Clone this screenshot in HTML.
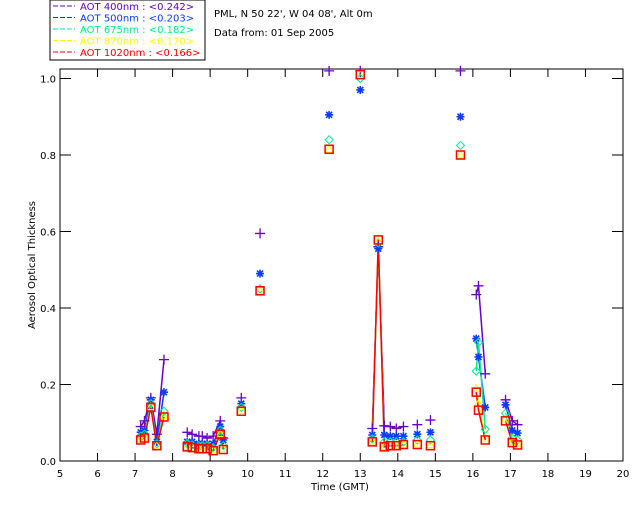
<!DOCTYPE html>
<html><head><meta charset="utf-8"><style>
body{margin:0;background:#fff;width:640px;height:512px;overflow:hidden}
svg text{font-family:"DejaVu Sans","Liberation Sans",sans-serif;font-size:10px}
</style></head><body>
<svg id="c" width="640" height="512" xmlns="http://www.w3.org/2000/svg">
<rect x="50" y="0" width="155" height="60" fill="#fff" stroke="#000"/>
<text x="214" y="17" fill="#000">PML, N 50 22', W 04 08', Alt 0m</text>
<text x="214" y="36" fill="#000">Data from: 01 Sep 2005</text>
<text x="340" y="490" text-anchor="middle" fill="#000">Time (GMT)</text>
<text x="0" y="0" transform="translate(35,265) rotate(-90)" text-anchor="middle" fill="#000">Aerosol Optical Thickness</text>
<g id="ax"></g><g id="lines"></g><g id="marks"></g><g id="leg"></g>
</svg>
<script>
const times=[7.15,7.25,7.42,7.58,7.77,8.39,8.52,8.7,8.79,8.92,9.08,9.27,9.35,9.83,10.33,12.17,13.0,13.32,13.48,13.64,13.8,13.96,14.15,14.52,14.87,15.67,16.09,16.15,16.33,16.87,17.05,17.19];
const aot400=[.09,.105,.165,.07,.265,.075,.07,.065,.065,.06,.065,.105,.06,.165,.595,1.02,1.02,.085,.56,.092,.09,.085,.09,.095,.107,1.02,.435,.458,.228,.16,.105,.095];
const aot500=[.075,.08,.16,.05,.18,.05,.05,.045,.045,.045,.045,.09,.055,.15,.49,.905,.97,.068,.555,.068,.065,.065,.065,.07,.075,.9,.32,.272,.14,.147,.08,.073];
const aot675=[.065,.07,.15,.045,.13,.045,.042,.04,.04,.04,.035,.08,.04,.14,.45,.84,1.0,.058,.57,.05,.05,.05,.05,.055,.055,.825,.235,.31,.083,.125,.06,.055];
const aot870=[.057,.062,.142,.04,.118,.038,.036,.033,.033,.033,.029,.072,.032,.132,.445,.815,1.01,.052,.575,.038,.04,.041,.044,.044,.042,.8,.19,.15,.06,.11,.05,.045];
const aot1020=[.055,.06,.14,.04,.115,.037,.035,.032,.032,.032,.027,.07,.03,.13,.445,.815,1.01,.05,.578,.037,.04,.04,.043,.043,.04,.8,.18,.133,.055,.105,.048,.042];
const xTicks=[5,6,7,8,9,10,11,12,13,14,15,16,17,18,19,20];
const yTicks=[0,0.2,0.4,0.6,0.8,1.0];
const legendLabels=["AOT  400nm : <0.242>","AOT  500nm : <0.203>","AOT  675nm : <0.182>","AOT  870nm : <0.170>","AOT 1020nm : <0.166>"];

const L=60,R=623,T=69,B=461;
const xs=t=>L+(t-5)*(R-L)/15;
const ys=v=>Math.max(T,B-v*382.5);
const NS="http://www.w3.org/2000/svg";
function mk(tag,at,par){const e=document.createElementNS(NS,tag);for(const k in at)e.setAttribute(k,at[k]);par.appendChild(e);return e;}
const ax=document.getElementById('ax');
let fr=mk('rect',{x:L,y:T,width:R-L,height:B-T,fill:'none',stroke:'#000'},ax);


xTicks.forEach(t=>{const x=xs(t);
 mk('line',{x1:x,y1:B,x2:x,y2:B-8,stroke:'#000'},ax);
 mk('line',{x1:x,y1:T,x2:x,y2:T+8,stroke:'#000'},ax);
 const tx=mk('text',{x:x,y:B+16,'text-anchor':'middle',fill:'#000'},ax);tx.textContent=t;
 
 
});
yTicks.forEach(v=>{const y=B-v*382.5;
 mk('line',{x1:L,y1:y,x2:L+11,y2:y,stroke:'#000'},ax);
 mk('line',{x1:R,y1:y,x2:R-11,y2:y,stroke:'#000'},ax);
 const tx=mk('text',{x:L-4,y:y+4,'text-anchor':'end',fill:'#000'},ax);tx.textContent=v.toFixed(1);
 
 
});
const series=[[aot400,'#6a00c8','plus'],[aot500,'#0a3cff','star'],[aot675,'#00f08c','diamond'],[aot870,'#ffff00','tri'],[aot1020,'#ff0000','square']];
const lg=document.getElementById('lines'),mg=document.getElementById('marks'),leg=document.getElementById('leg');
series.forEach(([vals,col,sym],si)=>{
 let d='';
 for(let i=0;i<times.length;i++){
  const x=xs(times[i]),y=ys(vals[i]);
  d+=(i>0&&times[i]-times[i-1]<0.3?'L':'M')+x.toFixed(1)+','+y.toFixed(1);
 }
 const p=mk('path',{d:d,fill:'none',stroke:col,'stroke-width':1.5},lg);
 
 
 for(let i=0;i<times.length;i++){
  const x=xs(times[i]),y=ys(vals[i]);let m;
  if(sym==='plus')m=mk('path',{d:`M${x-5},${y}h10M${x},${y-5}v10`,stroke:col,'stroke-width':1.3,fill:'none'},mg);
  else if(sym==='star')m=mk('path',{d:`M${x-4},${y}h8M${x},${y-4}v8M${x-3},${y-3}l6,6M${x-3},${y+3}l6,-6`,stroke:col,'stroke-width':1.6,fill:'none'},mg);
  else if(sym==='diamond')m=mk('path',{d:`M${x},${y-4}l4,4l-4,4l-4,-4z`,stroke:col,fill:'none'},mg);
  else if(sym==='tri')m=mk('path',{d:`M${x},${y-4}l4,7h-8z`,stroke:col,fill:'none'},mg);
  else m=mk('rect',{x:x-4,y:y-4,width:8,height:8,stroke:col,'stroke-width':1.5,fill:'none'},mg);
  
  
 }
 const ly=9+si*11.5;
 mk('line',{x1:53,y1:ly-3,x2:75,y2:ly-3,stroke:col,'stroke-dasharray':'5,2'},leg);
 const t=mk('text',{x:80,y:ly+1,fill:col,'xml:space':'preserve'},leg);t.textContent=legendLabels[si];
 
 
});
</script>
</body></html>
